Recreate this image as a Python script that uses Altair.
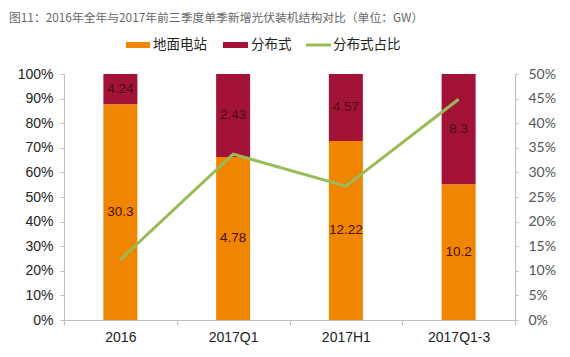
import altair as alt
import pandas as pd

# ---- data ----
periods = ["2016", "2017Q1", "2017H1", "2017Q1-3"]
ground = [30.3, 4.78, 12.22, 10.2]        # 地面电站 (GW)
distributed = [4.24, 2.43, 4.57, 8.3]      # 分布式 (GW)
series_names = ["地面电站", "分布式"]
line_name = "分布式占比"
title_text = "图11：2016年全年与2017年前三季度单季新增光伏装机结构对比（单位：GW）"
left_ticks = [i / 10 for i in range(11)]
right_ticks = [i / 20 for i in range(11)]

ORANGE = "#EF8500"
RED = "#A31237"
GREEN = "#9BBB59"

rows = []
for i, p in enumerate(periods):
    rows.append({"period": p, "series": series_names[0], "order": 0, "value": ground[i], "label": str(ground[i])})
    rows.append({"period": p, "series": series_names[1], "order": 1, "value": distributed[i], "label": str(distributed[i])})
df = pd.DataFrame(rows)

share_df = pd.DataFrame({
    "period": periods,
    "share": [d / (g + d) for g, d in zip(ground, distributed)],
})

x_axis = alt.Axis(
    title=None, labelAngle=0, tickBand="extent", tickSize=5,
    domainColor="#BFBFBF", tickColor="#BFBFBF", labelPadding=5,
    labelFont="Liberation Sans", labelFontSize=14, labelColor="#222222",
)
x_scale = alt.Scale(paddingInner=0, paddingOuter=0)

def x_enc():
    return alt.X("period:N", sort=periods, scale=x_scale, axis=x_axis)

left_axis = alt.Axis(
    title=None, format=".0%", values=left_ticks, grid=False,
    labelOverlap=False, labelFlush=False,
    domainColor="#BFBFBF", tickColor="#BFBFBF", tickSize=4, labelPadding=7,
    labelFont="Liberation Sans", labelFontSize=14, labelColor="#222222",
)
left_scale = alt.Scale(domain=[0, 1], nice=False)

base = alt.Chart(df).transform_stack(
    stack="value", groupby=["period"], as_=["y0", "y1"],
    offset="normalize", sort=[alt.SortField("order", order="ascending")],
).transform_calculate(mid="(datum.y0 + datum.y1) / 2")

bars = base.mark_bar(size=34).encode(
    x=x_enc(),
    y=alt.Y("y0:Q", scale=left_scale, axis=left_axis),
    y2="y1:Q",
    color=alt.Color("series:N", scale=alt.Scale(domain=series_names, range=[ORANGE, RED]), legend=None),
)

labels = base.mark_text(font="Liberation Sans", fontSize=13.5, color="#4A0E0E").encode(
    x=x_enc(),
    y=alt.Y("mid:Q", scale=left_scale, axis=left_axis),
    text="label:N",
)

line = alt.Chart(share_df).mark_line(color=GREEN, strokeWidth=3).encode(
    x=x_enc(),
    y=alt.Y(
        "share:Q",
        scale=alt.Scale(domain=[0, 0.5], nice=False),
        axis=alt.Axis(
            orient="right", title=None, format=".0%",
            values=right_ticks, grid=False,
            labelOverlap=False, labelFlush=False,
            domainColor="#BFBFBF", tickColor="#BFBFBF", tickSize=3, labelPadding=10,
            labelFont="Lato", labelFontSize=14, labelColor="#555555",
        ),
    ),
)

one = pd.DataFrame({"k": [0]})

title_mark = alt.Chart(one).mark_text(
    align="left", baseline="middle", font="Noto Sans CJK SC", fontSize=11.8, color="#666666"
).encode(x=alt.value(-55), y=alt.value(-56), text=alt.value(title_text))

leg_orange = alt.Chart(one).mark_rect(color=ORANGE).encode(
    x=alt.value(62), x2=alt.value(86), y=alt.value(-32), y2=alt.value(-26))
leg_red = alt.Chart(one).mark_rect(color=RED).encode(
    x=alt.value(159), x2=alt.value(184), y=alt.value(-32), y2=alt.value(-26))
leg_green = alt.Chart(one).mark_rule(color=GREEN, strokeWidth=3).encode(
    x=alt.value(242), x2=alt.value(267), y=alt.value(-29))

def leg_text(xpos, txt):
    return alt.Chart(one).mark_text(
        align="left", baseline="middle", font="Noto Sans CJK SC", fontSize=13.5, color="#222222"
    ).encode(x=alt.value(xpos), y=alt.value(-29), text=alt.value(txt))

chart = alt.layer(
    alt.layer(bars, labels),
    line,
    title_mark, leg_orange, leg_red, leg_green,
    leg_text(89, series_names[0]), leg_text(187, series_names[1]), leg_text(269, line_name),
).resolve_scale(y="independent").properties(
    width=451, height=246,
    autosize=alt.AutoSizeParams(type="none"),
    padding={"left": 56, "top": 66, "right": 45, "bottom": 30},
).configure_view(stroke=None)

chart.save("out.html", embed_options={"renderer": "svg", "actions": False})
